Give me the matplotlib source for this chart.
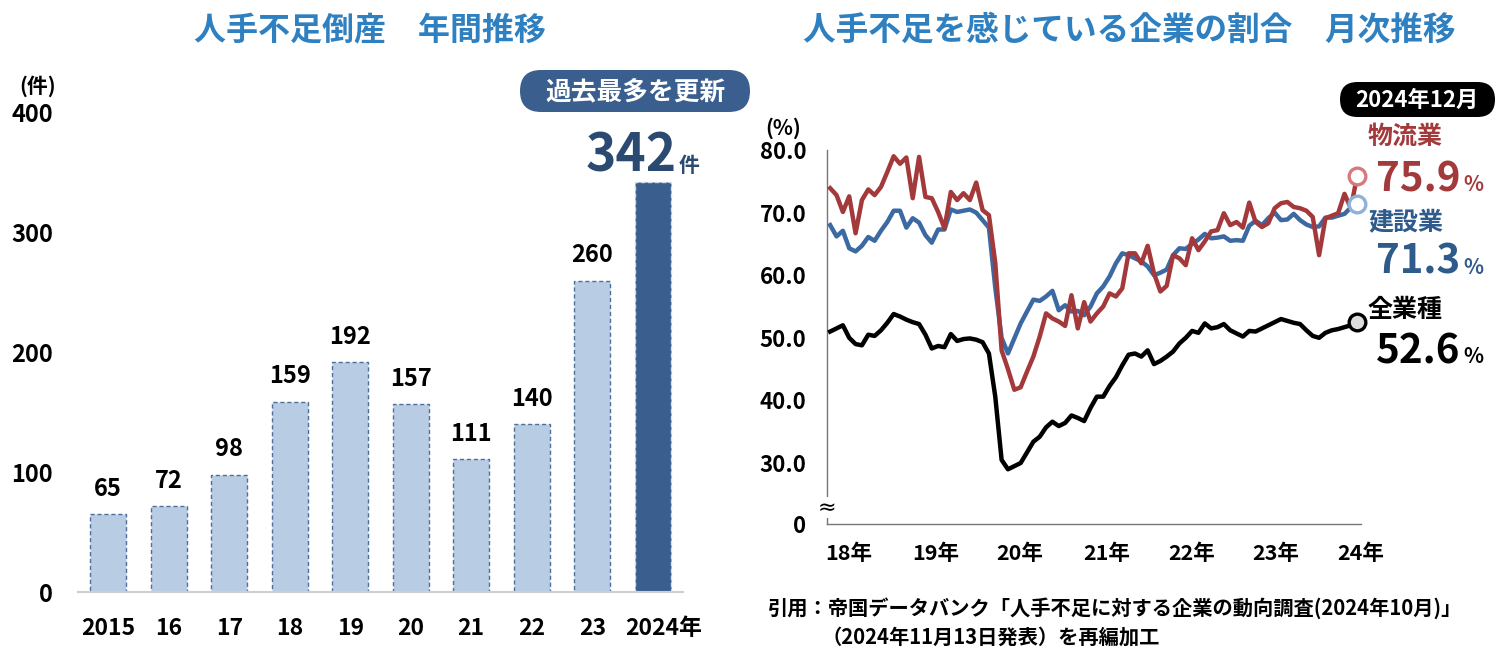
"""Labour-shortage bankruptcies and shortage ratio, two panel chart."""
import matplotlib
matplotlib.use('Agg')
import matplotlib.pyplot as plt
from matplotlib.patches import FancyBboxPatch
from matplotlib.transforms import blended_transform_factory, ScaledTranslation

W, H = 1505, 654
FONT = ['Noto Sans CJK JP', 'DejaVu Sans']
plt.rcParams['font.family'] = FONT
plt.rcParams['font.weight'] = 'bold'

COLORS = {
    'title': '#2F80C0',
    'bar': '#B8CCE4',
    'bar_edge': '#4F6F9A',
    'bar_hi': '#3A5F8F',
    'navy': '#2B4A72',
    'red': '#A3393B',
    'red_light': '#D9797D',
    'blue': '#3D69A3',
    'blue_text': '#2E5A8C',
    'blue_light': '#8FB0DA',
}

# left panel: bankruptcies per year
years = ['2015', '16', '17', '18', '19', '20', '21', '22', '23', '2024年']
bankruptcies = [65, 72, 98, 159, 192, 157, 111, 140, 260, 342]
left_ticks = [0, 100, 200, 300, 400]

# right panel: monthly share of firms short of staff, Jan 2018 - Dec 2024
logistics = [
    73.9, 72.8, 70.1, 72.6, 66.7, 72.0, 73.7, 72.8, 74.1, 76.5, 79.0, 77.8,
    78.8, 72.3, 78.9, 72.5, 72.3, 70.1, 67.5, 73.3, 72.0, 73.1, 72.0, 74.8,
    70.4, 69.6, 62.0, 48.0, 45.0, 41.7, 42.1, 44.6, 47.0, 50.2, 53.9, 53.1,
    52.6, 51.9, 56.8, 51.5, 55.7, 52.6, 53.9, 55.0, 57.1, 56.6, 57.9, 63.5,
    63.5, 61.9, 64.7, 60.3, 57.4, 58.3, 63.2, 62.7, 61.6, 65.9, 64.0, 65.4,
    67.0, 67.2, 69.9, 68.0, 68.5, 67.6, 71.6, 68.5, 67.7, 68.3, 70.7, 71.5,
    71.7, 70.9, 70.7, 70.3, 69.3, 63.2, 69.1, 69.5, 69.9, 73.0, 70.7, 75.9,
]
construction = [
    68.0, 66.2, 67.1, 64.3, 63.8, 64.7, 66.1, 65.5, 67.1, 68.5, 70.3, 70.3,
    67.6, 69.1, 68.4, 66.4, 65.2, 67.3, 67.3, 70.5, 70.1, 70.3, 70.5, 70.0,
    68.8, 67.6, 58.0, 50.0, 47.5, 49.9, 52.3, 54.2, 56.1, 55.9, 56.6, 57.5,
    54.4, 55.2, 54.2, 54.3, 53.6, 55.0, 57.1, 58.2, 59.8, 61.9, 63.5, 63.2,
    62.7, 62.2, 61.4, 60.0, 60.4, 60.9, 63.2, 64.3, 64.2, 65.0, 65.7, 66.6,
    65.9, 66.0, 66.2, 65.5, 65.6, 65.5, 67.9, 68.7, 68.0, 69.1, 70.0, 68.8,
    68.9, 69.8, 68.8, 68.1, 67.7, 67.8, 69.2, 69.2, 69.5, 69.8, 70.8, 71.3,
]
all_industries = [
    51.0, 51.5, 52.0, 50.0, 49.0, 48.8, 50.5, 50.3, 51.2, 52.4, 53.8, 53.4,
    52.9, 52.5, 52.2, 50.5, 48.3, 48.7, 48.5, 50.6, 49.5, 49.8, 49.9, 49.7,
    49.3, 47.5, 40.6, 30.5, 29.0, 29.5, 30.0, 31.7, 33.4, 34.2, 35.7, 36.6,
    35.9, 36.4, 37.6, 37.2, 36.7, 38.8, 40.6, 40.6, 42.3, 43.7, 45.6, 47.3,
    47.5, 47.0, 48.0, 45.8, 46.3, 47.0, 47.8, 49.1, 50.0, 51.1, 50.8, 52.3,
    51.5, 51.7, 52.2, 51.2, 50.7, 50.2, 51.1, 51.0, 51.5, 52.0, 52.5, 53.0,
    52.7, 52.4, 52.2, 51.2, 50.3, 50.0, 50.8, 51.2, 51.4, 51.7, 52.0, 52.6,
]
month_tick_pos = [3.0, 16.7, 29.9, 43.5, 56.9, 70.2, 83.6]
month_labels = ['18年', '19年', '20年', '21年', '22年', '23年', '24年']
right_ticks = [20.26, 30, 40, 50, 60, 70, 80]
right_tick_labels = ['0', '30.0', '40.0', '50.0', '60.0', '70.0', '80.0']


def fx(px):
    return px / W


def fy(py):
    return 1 - py / H


def badge(fig, x0, y0, x1, y1, color):
    """Rounded capsule drawn in pixel units (inches at dpi 100)."""
    r = (y1 - y0) / 200
    box = FancyBboxPatch((x0 / 100, (H - y1) / 100), (x1 - x0) / 100,
                         (y1 - y0) / 100,
                         boxstyle=f'round,pad=0,rounding_size={r}',
                         transform=fig.dpi_scale_trans, fc=color, ec='none')
    fig.patches.append(box)


fig = plt.figure(figsize=(W / 100, H / 100), dpi=100)

# ---------------- left panel ----------------
ax1 = fig.add_axes([fx(78), fy(592), fx(683) - fx(78), fy(113) - fy(592)])
x = range(len(years))
fills = [COLORS['bar']] * (len(years) - 1) + [COLORS['bar_hi']]
edges = [COLORS['bar_edge']] * (len(years) - 1) + ['#D5DFEC']
ax1.bar(x, bankruptcies, width=0.6, color=fills, edgecolor=edges,
        linewidth=1.0, linestyle=(0, (3, 2)), zorder=2)
for i, v in enumerate(bankruptcies[:-1]):
    ax1.text(i, v + 11, str(v), ha='center', va='bottom', fontsize=17)
ax1.text(9.40, 351, '342', ha='right', va='baseline', fontsize=37,
         color=COLORS['navy'])
ax1.text(9.43, 351, '件', ha='left', va='baseline', fontsize=15,
         color=COLORS['navy'])

ax1.set_xlim(-0.5, 9.5)
ax1.set_ylim(0, 400)
ax1.set_xticks(list(x))
ax1.set_xticklabels(years, fontsize=16.5)
ax1.set_yticks(left_ticks)
ax1.set_yticklabels([str(t) for t in left_ticks], fontsize=17)
ax1.tick_params(length=0)
ax1.tick_params(axis='x', pad=18)
ax1.tick_params(axis='y', pad=18)
# the "年" suffix pushes the last label a little to the right
last_lbl = ax1.get_xticklabels()[-1]
last_lbl.set_transform(last_lbl.get_transform()
                       + ScaledTranslation(0.11, 0, fig.dpi_scale_trans))
for side in ['top', 'right', 'left']:
    ax1.spines[side].set_visible(False)
ax1.spines['bottom'].set_color('#CFCFCF')
ax1.spines['bottom'].set_linewidth(1.5)

fig.text(fx(370), fy(30), '人手不足倒産\u3000年間推移', ha='center', va='center',
         fontsize=23, color=COLORS['title'])
fig.text(fx(38), fy(86), '(件)', ha='center', va='center', fontsize=15)
badge(fig, 520, 70, 750, 112, COLORS['bar_hi'])
fig.text(fx(635), fy(92), '過去最多を更新', ha='center', va='center',
         fontsize=18.5, color='white')

# ---------------- right panel ----------------
ax2 = fig.add_axes([fx(827), fy(524), fx(1361) - fx(827), fy(150) - fy(524)])
months = range(len(all_industries))
ax2.plot(months, construction, color=COLORS['blue'], lw=3.2, zorder=3)
ax2.plot(months, logistics, color=COLORS['red'], lw=3.2, zorder=4)
ax2.plot(months, all_industries, color='black', lw=3.2, zorder=5)
last = len(all_industries) - 1
ax2.plot(last, construction[-1], 'o', ms=12, mfc='white', mew=2.4,
         mec=COLORS['blue_light'], zorder=6, clip_on=False)
ax2.plot(last, logistics[-1], 'o', ms=12, mfc='white', mew=2.4,
         mec=COLORS['red_light'], zorder=6, clip_on=False)
ax2.plot(last, all_industries[-1], 'o', ms=12, mfc='#DDDDDD', mew=2.4,
         mec='black', zorder=6, clip_on=False)

ax2.set_xlim(-0.5, 83.6)
ax2.set_ylim(right_ticks[0], 80)
ax2.set_xticks(month_tick_pos)
ax2.set_xticklabels(month_labels, fontsize=15.5)
ax2.set_yticks(right_ticks)
ax2.set_yticklabels(right_tick_labels, fontsize=16)
ax2.tick_params(length=0)
ax2.tick_params(axis='x', pad=14)
ax2.tick_params(axis='y', pad=15)
for side in ['top', 'right']:
    ax2.spines[side].set_visible(False)
for side in ['left', 'bottom']:
    ax2.spines[side].set_color('#777777')
    ax2.spines[side].set_linewidth(1.0)

# axis break mark
trans = blended_transform_factory(ax2.transAxes, ax2.transData)
ax2.text(0, 22.9, '≈', transform=trans, ha='center', va='center',
         fontsize=16, fontweight='normal', family='DejaVu Sans',
         bbox=dict(fc='white', ec='none', pad=0.5), clip_on=False)

fig.text(fx(1129), fy(30), '人手不足を感じている企業の割合\u3000月次推移',
         ha='center', va='center', fontsize=23.5, color=COLORS['title'])
fig.text(fx(783), fy(128), '(%)', ha='center', va='center', fontsize=15)
badge(fig, 1340, 82, 1495, 117, 'black')
fig.text(fx(1417), fy(100), '2024年12月', ha='center', va='center',
         fontsize=16, color='white')

end_labels = [
    ('物流業', logistics[-1], COLORS['red'], 137, 175),
    ('建設業', construction[-1], COLORS['blue_text'], 222, 258),
    ('全業種', all_industries[-1], 'black', 310, 347),
]
renderer = fig.canvas.get_renderer()
for name, val, col, y_name, y_val in end_labels:
    fig.text(fx(1368), fy(y_name), name, ha='left', va='center',
             fontsize=18, color=col)
    t = fig.text(fx(1376), fy(y_val + 16), f'{val:.1f}', ha='left',
                 va='baseline', fontsize=29, color=col)
    right_px = t.get_window_extent(renderer).x1
    fig.text(right_px / W + fx(3), fy(y_val + 16), '%', ha='left',
             va='baseline', fontsize=15, color=col)

fig.text(fx(768), fy(608), '引用：帝国データバンク「人手不足に対する企業の動向調査(2024年10月)」',
         ha='left', va='center', fontsize=14.6)
fig.text(fx(822), fy(637), '（2024年11月13日発表）を再編加工',
         ha='left', va='center', fontsize=14.6)

fig.savefig('out.png', dpi=100)
